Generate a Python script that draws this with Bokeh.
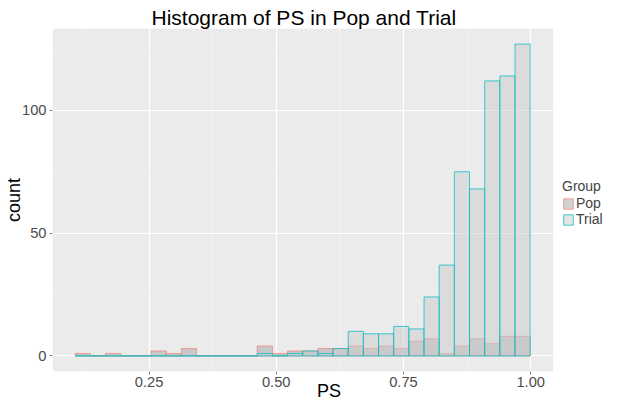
from bokeh.plotting import figure
from bokeh.models import (ColumnDataSource, FixedTicker, Legend, LegendItem, Range1d, BoxAnnotation)
from bokeh.embed import file_html
from bokeh.resources import INLINE

# ---- data ----
bin_start = 0.105
bin_width = 0.0298
n_bins = 30
pop_counts = [1, 0, 1, 0, 0, 2, 1, 3, 0, 0, 0, 0, 4, 1, 2, 2, 3, 3, 4, 3, 4, 3, 6, 7, 1, 4, 7, 5, 8, 8]
trial_counts = [0, 0, 0, 0, 0, 0, 0, 0, 0, 0, 0, 0, 1, 0, 1, 2, 1, 3, 10, 9, 9, 12, 11, 24, 37, 75, 68, 112, 114, 127]
x_ticks = [0.25, 0.50, 0.75, 1.00]
x_tick_labels = ["0.25", "0.50", "0.75", "1.00"]
x_minor = [0.125, 0.375, 0.625, 0.875]
y_ticks = [0, 50, 100]
y_minor = [25, 75, 125]
groups = ["Pop", "Trial"]

centers = [bin_start + bin_width * (i + 0.5) for i in range(n_bins)]
pop_src = ColumnDataSource(dict(x=centers, top=pop_counts))
trial_src = ColumnDataSource(dict(x=centers, top=trial_counts))

FONT = "Liberation Sans"
W, H = 605, 403
PANEL_X0, PANEL_X1 = 0.0603, 1.0447   # panel (grey area) data extent
X_END = 1.1470                          # frame continues to the right to hold the legend

p = figure(width=W, height=H, output_backend="svg", toolbar_location=None,
           x_range=Range1d(PANEL_X0, X_END), y_range=Range1d(-6.35, 133.35),
           min_border_left=52, min_border_right=0, min_border_top=28, min_border_bottom=31)

p.title.text = "Histogram of PS in Pop and Trial"
p.title.align = "left"
p.title.text_font = FONT
p.title.text_font_size = "21px"
p.title.text_font_style = "normal"
p.title.text_color = "black"
p.title.standoff = 0
p.title.offset = 99

p.background_fill_color = "white"
p.border_fill_color = "white"
p.outline_line_color = None

for ax, ticks, minor in ((p.xaxis[0], x_ticks, x_minor), (p.yaxis[0], y_ticks, y_minor)):
    ax.ticker = FixedTicker(ticks=ticks, minor_ticks=minor)
    ax.axis_line_color = None
    ax.major_tick_in = 0
    ax.major_tick_out = 3
    ax.major_tick_line_color = "#7F7F7F"
    ax.minor_tick_line_color = None
    ax.major_label_text_font = FONT
    ax.major_label_text_font_size = "14.7px"
    ax.major_label_text_color = "#4D4D4D"
    ax.axis_label_text_font = FONT
    ax.axis_label_text_font_size = "18px"
    ax.axis_label_text_font_style = "normal"
    ax.axis_label_text_color = "black"

p.xaxis[0].major_label_overrides = {t: l for t, l in zip(x_ticks, x_tick_labels)}
p.xaxis[0].axis_label = "PS"
p.xaxis[0].bounds = (PANEL_X0, PANEL_X1)
p.xaxis[0].major_label_standoff = 1
p.xaxis[0].axis_label_standoff = -9
p.yaxis[0].axis_label = "count"
p.yaxis[0].major_label_standoff = 2
p.yaxis[0].axis_label_standoff = -5

p.xgrid.grid_line_color = "white"
p.ygrid.grid_line_color = "white"
p.xgrid.grid_line_width = 1.2
p.ygrid.grid_line_width = 1.2
p.xgrid.minor_grid_line_color = "#F3F3F3"
p.ygrid.minor_grid_line_color = "#F3F3F3"
p.xgrid.minor_grid_line_width = 0.6
p.ygrid.minor_grid_line_width = 0.6

# grey panel drawn beneath the grid lines (frame continues right, white, for the legend)
panel_box = BoxAnnotation(left=PANEL_X0, right=PANEL_X1, fill_color="#EBEBEB", fill_alpha=1,
                          line_color=None, level="underlay")
p.center = [panel_box] + list(p.center)

r_pop = p.vbar(x="x", top="top", bottom=0, width=bin_width, source=pop_src,
               fill_color="#A6A6A6", fill_alpha=0.5,
               line_color="#F8766D", line_alpha=0.65, line_width=1)
r_trial = p.vbar(x="x", top="top", bottom=0, width=bin_width, source=trial_src,
                 fill_color="#CCCCCC", fill_alpha=0.5,
                 line_color="#00BFC4", line_alpha=0.75, line_width=1)

# white strip right of the panel hides the horizontal grid lines there
p.add_layout(BoxAnnotation(left=PANEL_X1, fill_color="white", fill_alpha=1,
                           line_color=None, level="underlay"))

legend = Legend(items=[LegendItem(label=groups[0], renderers=[r_pop]),
                       LegendItem(label=groups[1], renderers=[r_trial])],
                location=(510, 144), title="Group",
                title_text_font=FONT, title_text_font_size="14px", title_text_font_style="normal",
                title_standoff=1,
                label_text_font=FONT, label_text_font_size="14px",
                glyph_width=12, glyph_height=13, label_standoff=2, spacing=0,
                padding=0, margin=0, border_line_color=None, background_fill_alpha=0)
p.add_layout(legend, "center")

open("out.html", "w").write(file_html(p, INLINE))
